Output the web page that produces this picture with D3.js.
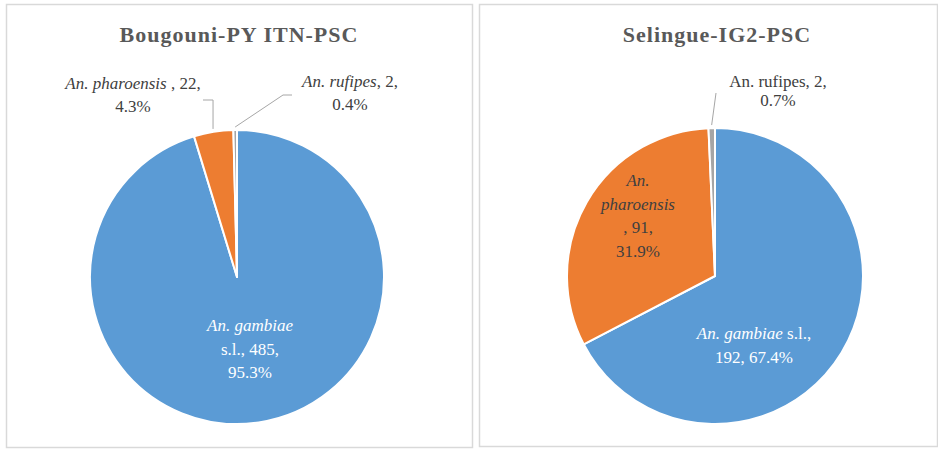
<!DOCTYPE html>
<html>
<head>
<meta charset="utf-8">
<script src="https://cdn.jsdelivr.net/npm/d3@7"></script>
<style>
  html, body { margin: 0; padding: 0; background: #fff; }
</style>
</head>
<body>
<svg id="chart" width="938" height="449" font-family="'Liberation Serif', 'Times New Roman', Times, 'DejaVu Serif', serif"></svg>
<script>
// Data
const species = ["An. gambiae s.l.", "An. pharoensis", "An. rufipes"];
const titles = ["Bougouni-PY ITN-PSC", "Selingue-IG2-PSC"];
const bougouniCounts = [485, 22, 2];
const selingueCounts = [192, 91, 2];
const colors = ["#5B9BD5", "#ED7D31", "#A5A5A5"];

// label text per panel/slice: lines of [text, italic]
const bougouniLabels = [
    [[["An. gambiae", true]], [["s.l., 485,", false]], [["95.3%", false]]],
    [[["An. pharoensis", true], [" , 22,", false]], [["4.3%", false]]],
    [[["An. rufipes", true], [", 2,", false]], [["0.4%", false]]]
];
const selingueLabels = [
    [[["An. gambiae", true], [" s.l.,", false]], [["192, 67.4%", false]]],
    [[["An.", true]], [["pharoensis", true]], [[", 91,", false]], [["31.9%", false]]],
    [[["An. rufipes, 2,", false]], [["0.7%", false]]]
];

const svg = d3.select("#chart");

const panels = [
    {
        title: titles[0], counts: bougouniCounts, labels: bougouniLabels,
        box: { x: 6.5, y: 4.5, w: 466, h: 443 },
        cx: 237, cy: 277, r: 147,
        // label anchor offsets from center (first baseline), line height, fill
        place: [
            { dx: 13, dy: 54, lh: 23.5, fill: "#fff" },
            { dx: -104, dy: -188, lh: 23, fill: "#404040", leader: [[-34, -177], [null, -177]] },
            { dx: 113, dy: -190, lh: 23, fill: "#404040", leader: [[55, -182], [46, -182]] }
        ]
    },
    {
        title: titles[1], counts: selingueCounts, labels: selingueLabels,
        box: { x: 479.5, y: 4.5, w: 458, h: 442 },
        cx: 715, cy: 276, r: 148,
        place: [
            { dx: 39, dy: 63, lh: 24, fill: "#fff" },
            { dx: -77, dy: -90, lh: 23.7, fill: "#404040" },
            { dx: 63, dy: -189, lh: 19, fill: "#404040", leader: [[1, -183]] }
        ]
    }
];

const pie = d3.pie().sort(null).value(d => d);

panels.forEach(p => {
    const g = svg.append("g");

    g.append("rect")
        .attr("x", p.box.x).attr("y", p.box.y)
        .attr("width", p.box.w).attr("height", p.box.h)
        .attr("fill", "#fff")
        .attr("stroke", "#d9d9d9")
        .attr("stroke-width", 1.5);

    g.append("text")
        .attr("x", p.cx + 2)
        .attr("y", 42)
        .attr("text-anchor", "middle")
        .attr("font-size", 22)
        .attr("font-weight", "bold")
        .attr("letter-spacing", 1)
        .attr("fill", "#595959")
        .text(p.title);

    const arcs = pie(p.counts);
    const arc = d3.arc().innerRadius(0).outerRadius(p.r);

    const pg = g.append("g").attr("transform", `translate(${p.cx},${p.cy})`);

    pg.selectAll("path.slice")
        .data(arcs)
        .join("path")
        .attr("class", "slice")
        .attr("d", arc)
        .attr("fill", (d, i) => colors[i])
        .attr("stroke", "#fff")
        .attr("stroke-width", 2)
        .attr("stroke-linejoin", "round");

    // leader lines
    arcs.forEach((a, i) => {
        const pl = p.place[i];
        if (!pl.leader) return;
        const mid = (a.startAngle + a.endAngle) / 2;
        const end = [Math.sin(mid) * (p.r + 3), -Math.cos(mid) * (p.r + 3)];
        const pts = pl.leader.map(q => [q[0] === null ? end[0] : q[0], q[1]]);
        pts.push(end);
        pg.append("path")
            .attr("d", d3.line()(pts))
            .attr("fill", "none")
            .attr("stroke", "#a6a6a6")
            .attr("stroke-width", 1);
    });

    // labels
    p.labels.forEach((lines, i) => {
        const pl = p.place[i];
        const t = pg.append("text")
            .attr("text-anchor", "middle")
            .attr("font-size", 17)
            .attr("fill", pl.fill);
        lines.forEach((segs, li) => {
            segs.forEach((s, si) => {
                const ts = t.append("tspan")
                    .attr("font-style", s[1] ? "italic" : "normal")
                    .text(s[0]);
                if (si === 0) ts.attr("x", pl.dx).attr("y", pl.dy + li * pl.lh);
            });
        });
    });
});
</script>
</body>
</html>
